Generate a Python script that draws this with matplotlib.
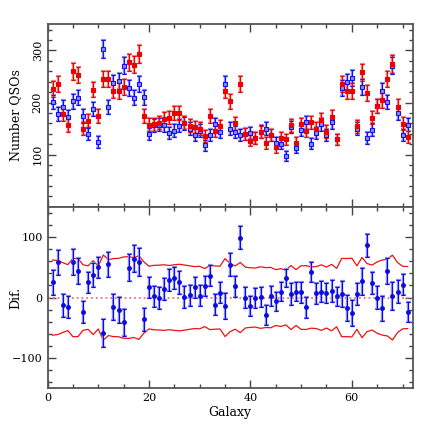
import numpy as np
import matplotlib.pyplot as plt
from matplotlib.ticker import MultipleLocator

galaxy = np.arange(1, 72)

# QSO counts per galaxy
red_counts = [226, 236, 178, 156, 260, 253, 150, 165, 225, 174,
              245, 245, 223, 222, 230, 277, 273, 293, 174, 157,
              158, 161, 169, 171, 180, 180, 161, 155, 153, 150,
              136, 174, 145, 154, 223, 202, 160, 236, 140, 127,
              132, 143, 122, 138, 114, 132, 129, 156, 123, 158,
              146, 162, 150, 167, 144, 172, 129, 236, 222, 222,
              154, 258, 218, 171, 193, 204, 245, 274, 192, 159,
              134]
blue_counts = [201, 178, 191, 172, 202, 209, 174, 140, 188, 124,
               303, 191, 238, 242, 271, 228, 209, 236, 210, 140,
               156, 157, 156, 141, 146, 155, 160, 150, 137, 146,
               118, 137, 158, 144, 236, 150, 143, 137, 140, 141,
               132, 144, 150, 137, 122, 121, 97, 153, 113, 148,
               162, 121, 141, 158, 137, 162, 129, 228, 239, 247,
               150, 230, 132, 148, 193, 222, 201, 271, 180, 137,
               157]

# difference values
dif = [25, 58, -13, -15, 58, 44, -24, 25, 37, 50,
       -58, 55, -16, -20, -41, 49, 64, 58, -36, 17,
       2, -1, 14, 29, 32, 25, 1, 4, 17, 3,
       19, 36, -12, 8, -14, 54, 19, 99, 0, -14,
       -1, 1, -28, 2, -6, 10, 32, 6, 10, 9,
       -16, 42, 7, 10, 8, 11, 2, 6, -17, -26,
       6, 27, 86, 24, 0, -18, 44, 3, 10, 21,
       -24]

red_counts = np.array(red_counts, dtype=float)
blue_counts = np.array(blue_counts, dtype=float)
dif = np.array(dif, dtype=float)

# poisson errors
red_err = np.sqrt(red_counts)
blue_err = np.sqrt(blue_counts)
dif_err = np.sqrt(red_counts + blue_counts)
band = 3 * dif_err

plt.rcParams['font.family'] = 'DejaVu Serif'
plt.rcParams['font.size'] = 8

fig = plt.figure(figsize=(4.36, 4.36), dpi=100)
ax1 = fig.add_axes([0.109, 0.526, 0.8376, 0.418])
ax2 = fig.add_axes([0.109, 0.109, 0.8376, 0.417])


def points(ax, x, y, e, dark, light, marker, face, ms):
    ax.errorbar(x, y, yerr=e, fmt='none', ecolor=light,
                elinewidth=1.7, capsize=1.8, capthick=1.6, zorder=3)
    ax.errorbar(x, y, yerr=e, fmt='none', ecolor=dark,
                elinewidth=0.8, capsize=1.6, capthick=0.8, zorder=4)
    ax.plot(x, y, ls='none', marker=marker, ms=ms, mfc=face,
            mec=dark, mew=0.8, zorder=5)


points(ax1, galaxy, blue_counts, blue_err, '#1010f0', '#9090f0', 's', '#8a8aff', 2.5)
points(ax1, galaxy, red_counts, red_err, '#ee0000', '#f08a8a', 's', '#ee0000', 2.5)

ax2.plot([0, 72], [0, 0], color='#f07070', ls=':', lw=1.3, zorder=2)
ax2.plot(galaxy, band, color='#ee1111', lw=0.9, zorder=2)
ax2.plot(galaxy, -band, color='#ee1111', lw=0.9, zorder=2)
points(ax2, galaxy, dif, dif_err, '#0a0ae8', '#8f8ff0', 'o', '#0a0ae8', 2.7)

for ax in (ax1, ax2):
    ax.set_xlim(0, 72)
    ax.xaxis.set_major_locator(MultipleLocator(20))
    ax.xaxis.set_minor_locator(MultipleLocator(5))
    ax.yaxis.set_minor_locator(MultipleLocator(20))
    ax.tick_params(which='both', direction='in', top=True, right=True,
                   color='#444444', width=1.0)
    ax.tick_params(which='major', length=6)
    ax.tick_params(which='minor', length=3)
    for s in ax.spines.values():
        s.set_color('#555555')
        s.set_linewidth(1.3)

ax1.set_ylim(0, 350)
ax1.set_yticks([100, 200, 300])
ax1.tick_params(axis='x', labelbottom=False)
for lab in ax1.get_yticklabels():
    lab.set_rotation(90)
    lab.set_va('center')
ax1.set_ylabel('Number QSOs', fontsize=9)
ax1.yaxis.set_label_coords(-0.07, 0.5)

ax2.set_ylim(-150, 150)
ax2.set_yticks([-100, 0, 100])
ax2.set_ylabel('Dif.', fontsize=9)
ax2.yaxis.set_label_coords(-0.07, 0.5)
ax2.set_xlabel('Galaxy', fontsize=9, labelpad=2)

fig.savefig('out.png', dpi=100)
